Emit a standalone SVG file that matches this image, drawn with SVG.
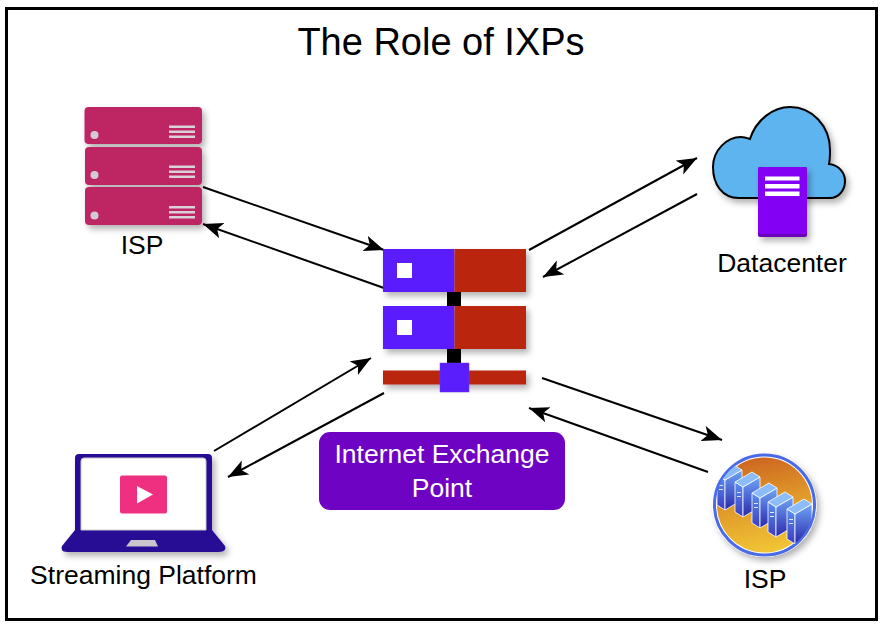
<svg xmlns="http://www.w3.org/2000/svg" width="883" height="628" viewBox="0 0 883 628">
<style>
text{font-family:"Liberation Sans",Arial,sans-serif;fill:#000}
.l{font-size:26.500px;text-anchor:middle}
.c{stroke:#000;stroke-width:2;fill:none;marker-end:url(#a)}
.srv{fill:#bd2562}
.bar{fill:#d9d3d8}
.dot{fill:#d2ccd2}
.blue{fill:#5a1dfc}
.red{fill:#b9270e}
.sv-f{fill:url(#sf)}
.sv-l{fill:url(#sl)}
.sv-t{fill:#8cbdfa}
.sv-s{fill:#dfe9fb}
</style>
<defs>
<marker id="a" markerUnits="userSpaceOnUse" markerWidth="21" markerHeight="17" refX="20" refY="8" orient="auto"><path d="M0,0L20,8L0,16L5,8Z" fill="#000"/></marker>
<filter id="sh" x="-20%" y="-20%" width="145%" height="145%"><feDropShadow dx="3" dy="4" stdDeviation="3" flood-color="#000" flood-opacity=".3"/></filter>
<linearGradient id="ball" x1="0.3" y1="0" x2="0.5" y2="1"><stop offset="0" stop-color="#cd6420"/><stop offset=".5" stop-color="#e09a2a"/><stop offset="1" stop-color="#f1c535"/></linearGradient>
<linearGradient id="sf" x1="0" y1="0" x2="0" y2="1"><stop offset="0" stop-color="#6fa5f8"/><stop offset="1" stop-color="#2a28a8"/></linearGradient>
<linearGradient id="sl" x1="0" y1="0" x2="0" y2="1"><stop offset="0" stop-color="#5b8ef0"/><stop offset="1" stop-color="#3a3cc0"/></linearGradient>
<clipPath id="cc"><circle cx="764.500" cy="505" r="49"/></clipPath>
<g id="blade">
<path class="sv-l" d="M0,10L8,15V45L0,40Z" stroke="#fff" stroke-width=".8"/>
<path class="sv-f" d="M8,15L25,5V35L8,45Z" stroke="#fff" stroke-width=".8"/>
<path class="sv-t" d="M0,10L17,0L25,5L8,15Z" stroke="#fff" stroke-width=".8"/>
<path class="sv-s" d="M2,20h4v1h-4zM2,24h4v1h-4z"/>
</g>
</defs>
<rect width="883" height="628" fill="#fff"/>
<rect x="6.500" y="8.500" width="870" height="611" fill="none" stroke="#000" stroke-width="3"/>
<text id="title" x="441" y="55" font-size="38" text-anchor="middle">The Role of IXPs</text>

<g id="connectors">
<path class="c" d="M203,187L384,250"/>
<path class="c" d="M384,288L203,224"/>
<path class="c" d="M529,250L697,158"/>
<path class="c" d="M697,194L543,277"/>
<path class="c" d="M214,451L371,358"/>
<path class="c" d="M384,393L228,477"/>
<path class="c" d="M542,378L722,440"/>
<path class="c" d="M708,472L529,408"/>
</g>

<g id="isp-server" filter="url(#sh)">
<rect class="srv" x="84.500" y="107" width="117.500" height="37" rx="4"/>
<rect class="srv" x="85" y="147" width="117" height="38" rx="4"/>
<rect class="srv" x="85" y="187" width="117" height="38" rx="4"/>
<g class="dot"><circle cx="94.500" cy="135" r="4"/><circle cx="94.500" cy="175" r="4"/><circle cx="94.500" cy="215.500" r="4"/></g>
<g class="bar">
<rect x="169" y="125.500" width="26" height="2.500"/><rect x="169" y="130.500" width="26" height="2.500"/><rect x="169" y="135.500" width="26" height="2.500"/>
<rect x="169" y="165.500" width="26" height="2.500"/><rect x="169" y="170.500" width="26" height="2.500"/><rect x="169" y="175.500" width="26" height="2.500"/>
<rect x="169" y="206" width="26" height="2.500"/><rect x="169" y="211" width="26" height="2.500"/><rect x="169" y="216" width="26" height="2.500"/>
</g>
</g>
<text class="l" x="142" y="254">ISP</text>

<g id="datacenter">
<path filter="url(#sh)" d="M739,198C722,198 713,184 713,167C713,150 727,137 741,137C744,137 747,138 750,139C756,120 773,107 790,107C812,107 830,126 830,150C830,155 830,160 829,164C839,165 845,173 845,181C845,191 838,198 830,198Z" fill="#5db4ee" stroke="#000" stroke-width="2"/>
<g filter="url(#sh)">
<rect x="758" y="167" width="49" height="70" rx="2" fill="#6a00b8"/>
<path d="M760,167H805a2,2 0 0 1 2,2V232a2,2 0 0 1-2,2H760a2,2 0 0 1-2-2V169a2,2 0 0 1 2-2Z" fill="#8400f5"/>
</g>
<path d="M765,176.500h34.500v4h-34.500zM765,184h34.500v4.500h-34.500zM765,191.500h34.500v4.500h-34.500z" fill="#fff"/>
<text class="l" x="782" y="272">Datacenter</text>
</g>

<g id="ixp">
<g filter="url(#sh)">
<rect class="blue" x="383" y="249" width="71.500" height="43"/>
<rect class="red" x="454.500" y="249" width="71.500" height="43"/>
<rect class="blue" x="383" y="306" width="71.500" height="43"/>
<rect class="red" x="454.500" y="306" width="71.500" height="43"/>
<rect class="red" x="383" y="370.500" width="143" height="14"/>
</g>
<rect x="447" y="292" width="14" height="14" fill="#000"/>
<rect x="447" y="349" width="14" height="14" fill="#000"/>
<rect class="blue" x="440" y="363" width="29" height="29" stroke="#6b3cf0" stroke-width=".5"/>
<rect x="397" y="263" width="15" height="15" fill="#fff"/>
<rect x="397" y="320" width="15" height="15" fill="#fff"/>
</g>

<g id="ixp-label">
<rect x="319" y="432" width="246" height="78" rx="11" fill="#6f03c4"/>
<text x="442" y="463" font-size="26.500" style="fill:#fff" text-anchor="middle">Internet Exchange</text>
<text x="442" y="497" font-size="26.500" style="fill:#fff" text-anchor="middle">Point</text>
</g>

<g id="streaming">
<g filter="url(#sh)">
<path d="M79,454H208a4,4 0 0 1 4,4V530L225,546Q227,552 218,552H68Q60,552 62,546L75,530V458a4,4 0 0 1 4-4Z" fill="#250c94"/>
</g>
<path d="M81,461a3,3 0 0 1 3-3H203a3,3 0 0 1 3,3V530H81Z" fill="#fff" stroke="#c9c6cc" stroke-width="1"/>
<path d="M126,546.500L131,540H155L158,546.500Z" fill="#c9c5cc"/>
<rect x="120" y="475.500" width="47" height="38" rx="2" fill="#ef2f7f"/>
<path d="M137,486V503.500L153,494.500Z" fill="#fff"/>
<text class="l" x="143.500" y="584">Streaming Platform</text>
</g>

<g id="isp-cluster">
<circle cx="764.500" cy="505" r="52" fill="#fff" filter="url(#sh)"/>
<circle cx="764.500" cy="505" r="50" fill="#fff" stroke="#4a6be8" stroke-width="3"/>
<circle cx="764.500" cy="505" r="47.500" fill="url(#ball)"/>
<g clip-path="url(#cc)">
<use href="#blade" x="717" y="465"/>
<use href="#blade" x="735" y="472"/>
<use href="#blade" x="752" y="483"/>
<use href="#blade" x="768" y="492"/>
<use href="#blade" x="787" y="499"/>
</g>
<text class="l" x="765" y="588">ISP</text>
</g>
</svg>
